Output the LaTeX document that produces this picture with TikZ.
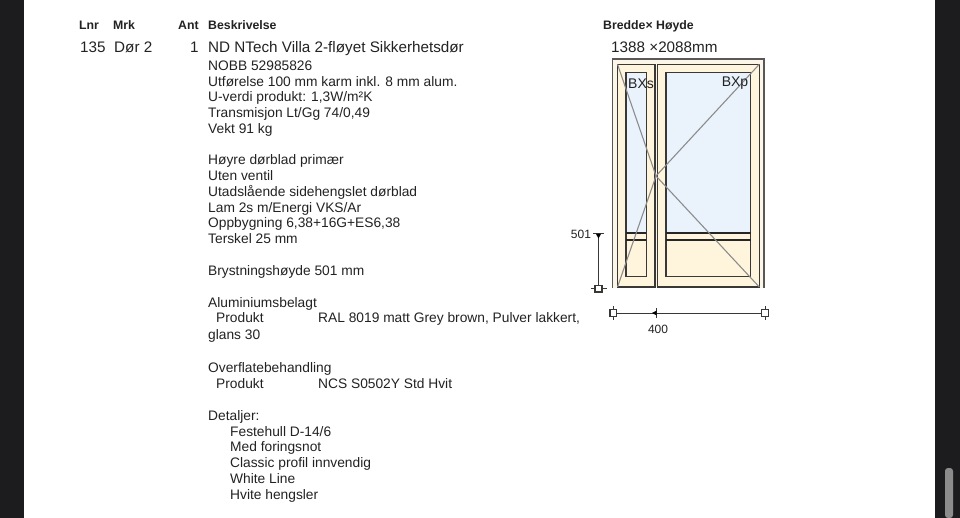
\documentclass[tikz,border=0pt]{standalone}
\usepackage{fontspec}
\setmainfont{Liberation Sans}
\definecolor{panelcream}{HTML}{FFF5DC}
\definecolor{framecream}{HTML}{FBF6E8}
\definecolor{glassblue}{HTML}{EAF3FC}
\definecolor{framedark}{HTML}{3A3836}
\definecolor{framegrey}{HTML}{5A5856}
\definecolor{inktext}{HTML}{222222}
\definecolor{sidedark}{HTML}{1C1C1E}
\tikzset{
  headtxt/.style={anchor=base west,inner sep=0pt,text=inktext,font=\fontsize{12.3}{14}\selectfont\bfseries},
  titletxt/.style={anchor=base west,inner sep=0pt,text=inktext,font=\fontsize{15.25}{17}\selectfont},
  bodytxt/.style={anchor=base west,inner sep=0pt,text=inktext,font=\fontsize{13.77}{15}\selectfont},
  dimtxt/.style={inner sep=0pt,text=inktext,font=\fontsize{12}{14}\selectfont},
  bxtxt/.style={inner sep=0pt,text=inktext,font=\fontsize{14}{16}\selectfont},
  wing/.style={draw=framedark,line width=1.4pt,fill=panelcream},
  glassline/.style={draw=framedark,line width=1.3pt},
  barline/.style={draw=black!85,line width=1.9pt},
  swing/.style={draw=black!45,line width=1.1pt},
  dimline/.style={draw=framedark,line width=1pt}
}
\begin{document}
\begin{tikzpicture}[x=1pt,y=-1pt]
\useasboundingbox (0,0) rectangle (960,518);
% Side bars and scroll handle
\fill[sidedark] (0,0) rectangle (24,518);
\fill[sidedark] (935,0) rectangle (960,518);
\fill[black!45,rounded corners=3pt] (945,468) rectangle (953,518);

% Table heads
\node[headtxt] (headlnr) at (79,29.5) {Lnr};
\node[headtxt] (headmrk) at (113,29.5) {Mrk};
\node[headtxt] (headant) at (178,29.5) {Ant};
\node[headtxt] (headbes) at (208,29.5) {Beskrivelse};
\node[headtxt] (headmal) at (603,29.5) {Bredde× Høyde};

% First row
\node[titletxt] (lnr) at (80,52.5) {135};
\node[titletxt] (mrk) at (114,52.5) {Dør 2};
\node[titletxt] (ant) at (190,52.5) {1};
\node[titletxt] (title) at (208,52.5) {ND NTech Villa 2-fløyet Sikkerhetsdør};
\node[titletxt] (mal) at (611,52.5) {1388 ×2088mm};

% Description
\node[bodytxt] (nobb) at (208,70.5) {NOBB 52985826};
\node[bodytxt] (utf) at (208,86.3) {Utførelse 100 mm karm inkl. 8 mm alum.};
\node[bodytxt] (uverdi) at (208,101.5) {U-verdi produkt: 1,3W/m²K};
\node[bodytxt] (trans) at (208,117.5) {Transmisjon Lt/Gg 74/0,49};
\node[bodytxt] (vekt) at (208,133.3) {Vekt 91 kg};
\node[bodytxt] (hoyre) at (208,165) {Høyre dørblad primær};
\node[bodytxt] (uten) at (208,181) {Uten ventil};
\node[bodytxt] (utad) at (208,196.5) {Utadslående sidehengslet dørblad};
\node[bodytxt] (lam) at (208,212.3) {Lam 2s m/Energi VKS/Ar};
\node[bodytxt] (oppb) at (208,228) {Oppbygning 6,38+16G+ES6,38};
\node[bodytxt] (tersk) at (208,244) {Terskel 25 mm};
\node[bodytxt] (bryst) at (208,276) {Brystningshøyde 501 mm};
\node[bodytxt] (alu) at (208,307.3) {Aluminiumsbelagt};
\node[bodytxt] (prod) at (216,323) {Produkt};
\node[bodytxt] (ral) at (318,323) {RAL 8019 matt Grey brown, Pulver lakkert,};
\node[bodytxt] (glans) at (208,339) {glans 30};
\node[bodytxt] (overf) at (208,372.5) {Overflatebehandling};
\node[bodytxt] (prodb) at (216,388.3) {Produkt};
\node[bodytxt] (ncs) at (318,388.3) {NCS S0502Y Std Hvit};
\node[bodytxt] (detal) at (208,420) {Detaljer:};
\node[bodytxt] (feste) at (230,436) {Festehull D-14/6};
\node[bodytxt] (foring) at (230,451.5) {Med foringsnot};
\node[bodytxt] (classic) at (230,467.3) {Classic profil innvendig};
\node[bodytxt] (white) at (230,483) {White Line};
\node[bodytxt] (hengsler) at (230,499) {Hvite hengsler};

% Frame and door leaves
\fill[framecream] (612.7,59) rectangle (764,288);
\draw[framegrey,line width=1.3pt] (612.7,288) -- (612.7,59) -- (764,59) -- (764,288);
\draw[wing] (617.5,64.3) rectangle (655,287);
\draw[wing] (657.5,64.3) rectangle (759.3,287);

% Left leaf
\fill[glassblue] (626,72.7) rectangle (646.3,233);
\draw[glassline] (626,72.7) rectangle (646.3,276.7);
\draw[barline] (626,233) -- (646.3,233);
\draw[barline] (626,240) -- (646.3,240);

% Right leaf
\fill[glassblue] (666,72.7) rectangle (750.7,233);
\draw[glassline] (666,72.7) rectangle (750.7,276.7);
\draw[barline] (666,233) -- (750.7,233);
\draw[barline] (666,240) -- (750.7,240);

% Opening lines
\coordinate (hinge) at (656,176);
\draw[swing] (617.5,64.3) -- (hinge) -- (759.3,287);
\draw[swing] (759.3,64.3) -- (hinge) -- (617.5,287);

\node[bxtxt] (bxs) at (641,83.5) {BXs};
\node[bxtxt] (bxp) at (735,83.5) {BXp};

% Sill height
\node[dimtxt] (lab501) at (581,234.5) {501};
\coordinate (vtop) at (598.5,234);
\coordinate (vbot) at (598.5,288.7);
\draw[dimline] (vtop) -- (vbot);
\draw[dimline] (593,234) -- (604,234);
\draw[dimline] (591,288.7) -- (607,288.7);
\fill[black] (596,234) -- (601,234) -- (598.5,238.5) -- cycle;
\draw[dimline,line width=1.2pt,fill=white] (595,285.5) rectangle (602,292);

% Width
\node[dimtxt] (lab400) at (658,329.5) {400};
\coordinate (hleft) at (613.2,313);
\coordinate (hmid) at (656.7,313);
\coordinate (hright) at (765,313);
\draw[dimline] (hleft) -- (hright);
\draw[dimline] (613.2,306) -- (613.2,320);
\draw[dimline] (765,306) -- (765,320);
\draw[dimline] (hmid)+(0,-5) -- +(0,5);
\fill[black] (656.7,310.5) -- (656.7,315.5) -- (652,313) -- cycle;
\draw[dimline,line width=1.2pt,fill=white] (609.9,309.7) rectangle (616.5,316.5);
\draw[dimline,line width=1.2pt,fill=white] (761.7,309.7) rectangle (768.3,316.5);
\end{tikzpicture}
\end{document}
